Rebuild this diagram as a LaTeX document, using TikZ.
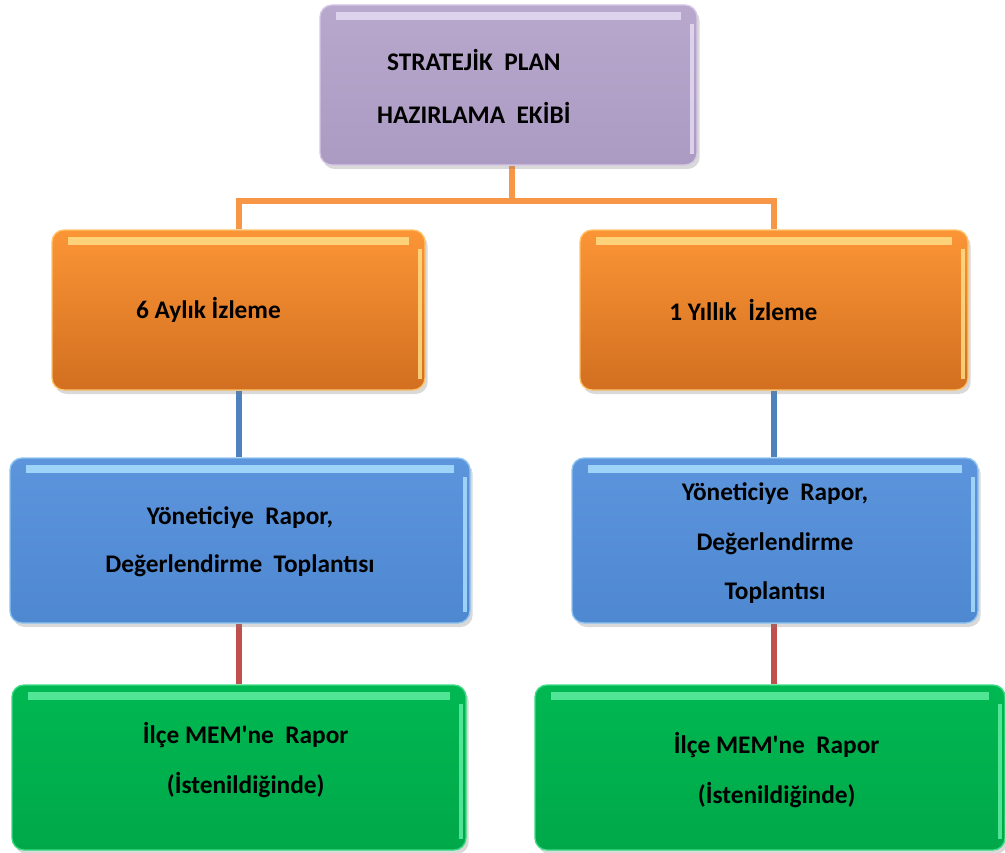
\documentclass[tikz,border=0pt]{standalone}
\usepackage{fontspec}
\setmainfont{Carlito}[Ligatures=TeXOff]
\usetikzlibrary{shadows,backgrounds}

\definecolor{morust}{HTML}{B8A8CD}
\definecolor{moralt}{HTML}{AB9AC2}
\definecolor{morisik}{HTML}{E8DEF6}
\definecolor{turuncuust}{HTML}{FB9536}
\definecolor{turuncualt}{HTML}{D26F20}
\definecolor{turuncuisik}{HTML}{FFE38C}
\definecolor{maviust}{HTML}{5C95DC}
\definecolor{mavialt}{HTML}{4E88D1}
\definecolor{maviisik}{HTML}{AEE4FF}
\definecolor{yesilust}{HTML}{00B852}
\definecolor{yesilalt}{HTML}{00A849}
\definecolor{yesilisik}{HTML}{66F2A6}
\definecolor{cizgituruncu}{HTML}{F79646}
\definecolor{cizgimavi}{HTML}{4F81BD}
\definecolor{cizgikirmizi}{HTML}{C0504D}

\begin{document}
\begin{tikzpicture}[x=0.75pt,y=-0.75pt,
   kutu/.style n args={3}{rounded corners=9pt, top color=#1, bottom color=#2,
      draw=#3!60!#1, line width=1pt,
      drop shadow={shadow xshift=2pt,shadow yshift=-3pt,opacity=.3},
      path picture={\fill[#3,opacity=.8,sharp corners]
         ([xshift=12pt,yshift=-5pt]path picture bounding box.north west) rectangle
         ([xshift=-12pt,yshift=-11pt]path picture bounding box.north east);
       \fill[#3,opacity=.8,sharp corners]
         ([xshift=-5pt,yshift=-14pt]path picture bounding box.north east) rectangle
         ([xshift=-2pt,yshift=8pt]path picture bounding box.south east);}},
   yazi/.style={font=\bfseries\fontsize{19}{#1}\selectfont, align=center},
   yazi/.default=37,
   baglanti/.style={line width=4.5pt, draw=#1}]

\useasboundingbox (0,0) rectangle (1005,852);

% kutular
\node[kutu={morust}{moralt}{morisik}, minimum width=282.75pt, minimum height=120pt]
   (plan) at (508.5,85) {};
\node[kutu={turuncuust}{turuncualt}{turuncuisik}, minimum width=279.75pt, minimum height=120pt]
   (ay6) at (238.5,310) {};
\node[kutu={turuncuust}{turuncualt}{turuncuisik}, minimum width=291pt, minimum height=120pt]
   (yil1) at (774,310) {};
\node[kutu={maviust}{mavialt}{maviisik}, minimum width=345pt, minimum height=123.75pt]
   (rapor6) at (240,540.5) {};
\node[kutu={maviust}{mavialt}{maviisik}, minimum width=304.5pt, minimum height=123.75pt]
   (rapor1) at (775,540.5) {};
\node[kutu={yesilust}{yesilalt}{yesilisik}, minimum width=340.5pt, minimum height=123.75pt]
   (ilce6) at (239,767.5) {};
\node[kutu={yesilust}{yesilalt}{yesilisik}, minimum width=352.5pt, minimum height=123.75pt]
   (ilce1) at (770,767.5) {};

% yazilar
\node[yazi=40] (plan-yazi) at ([xshift=-26pt,yshift=-1pt]plan.center)
   {STRATEJİK\ \ PLAN\\HAZIRLAMA\ \ EKİBİ};
\node[yazi] (ay6-yazi) at ([xshift=-22.5pt]ay6.center) {6 Aylık İzleme};
\node[yazi] (yil1-yazi) at ([xshift=-23pt]yil1.center) {1 Yıllık\ \ İzleme};
\node[yazi=36] (rapor6-yazi) at ([yshift=-1pt]rapor6.center)
   {Yöneticiye\ \ Rapor,\\Değerlendirme\ \ Toplantısı};
\node[yazi] (rapor1-yazi) at ([yshift=-2pt]rapor1.center)
   {Yöneticiye\ \ Rapor,\\Değerlendirme\\Toplantısı};
\node[yazi] (ilce6-yazi) at ([xshift=5pt,yshift=5.5pt]ilce6.center)
   {İlçe MEM'ne\ \ Rapor\\(İstenildiğinde)};
\node[yazi] (ilce1-yazi) at ([xshift=5pt,yshift=-2pt]ilce1.center)
   {İlçe MEM'ne\ \ Rapor\\(İstenildiğinde)};

% baglantilar
\begin{scope}[on background layer]
\draw[baglanti=cizgituruncu] ([xshift=2.5pt]plan.south) -- ++(0,35) -| (ay6.north);
\draw[baglanti=cizgituruncu] ([xshift=2.5pt]plan.south) -- ++(0,35) -| (yil1.north);
\draw[baglanti=cizgimavi] (ay6.south) -- (ay6.south |- rapor6.north);
\draw[baglanti=cizgimavi] (yil1.south) -- (yil1.south |- rapor1.north);
\draw[baglanti=cizgikirmizi] (ay6.south |- rapor6.south) -- (ay6.south |- ilce6.north);
\draw[baglanti=cizgikirmizi] (yil1.south |- rapor1.south) -- (yil1.south |- ilce1.north);
\end{scope}

\end{tikzpicture}
\end{document}
